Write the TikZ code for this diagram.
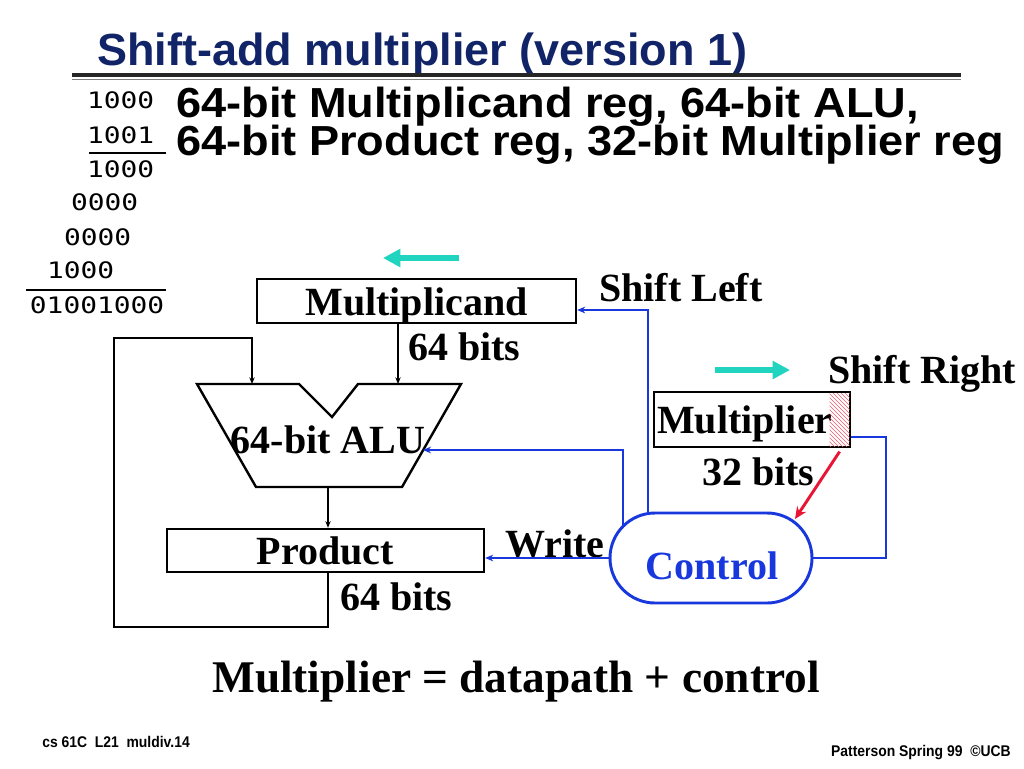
\documentclass[tikz,border=0pt]{standalone}
\usepackage{fontspec}
\setmainfont{Liberation Serif}
\newfontfamily\slidesans{Liberation Sans}
\newfontfamily\slidewide[FakeStretch=1.075]{Liberation Sans}
\newfontfamily\slidefoot[FakeStretch=0.9]{Liberation Sans}
\newfontfamily\slidemono[FakeStretch=1.23]{DejaVu Sans Mono}
\usepackage{tikz}
\usetikzlibrary{arrows.meta,patterns}
\definecolor{titleblue}{RGB}{18,36,104}
\definecolor{ctlblue}{RGB}{24,56,222}
\definecolor{shiftteal}{RGB}{32,212,192}
\definecolor{hotred}{RGB}{232,22,52}
\newcommand{\slidefont}[1]{\fontsize{#1}{#1}\selectfont}

\begin{document}
\begin{tikzpicture}[
  x=0.75pt,y=-0.75pt,
  reg/.style={draw,line width=1.8pt,inner sep=0pt,text height=21pt,text depth=0pt,font=\bfseries\slidefont{30}},
  lbl/.style={inner sep=0pt,font=\bfseries\slidefont{30}},
  bits/.style={inner sep=0pt,anchor=base east,font=\slidemono\slidefont{17}},
  ctlbox/.style={draw=ctlblue,line width=2.2pt,rounded corners=33.75pt,minimum width=151.5pt,minimum height=67.5pt},
  lsbbox/.style={draw=none,inner sep=0pt,pattern=north west lines,pattern color=hotred!70,minimum width=15pt,minimum height=39.75pt},
  arr/.style={-{Stealth[length=5pt,width=4pt]},line width=1.5pt},
  ctlarr/.style={-{Stealth[length=6pt,width=5pt]},ctlblue,line width=1.9pt},
  ctlline/.style={ctlblue,line width=1.9pt},
  hot/.style={-{Stealth[length=9pt,width=8pt]},hotred,line width=2.2pt},
  shiftarr/.style={-{Triangle[length=13pt,width=13pt]},shiftteal,line width=4.5pt},
  sumline/.style={line width=1.8pt}
]
\path[use as bounding box,fill=white] (0,0) rectangle (1024,768);
% title and rule
\node[anchor=base west,inner sep=0pt,text=titleblue,font=\slidesans\bfseries\slidefont{33.75}] (title) at (97,65) {Shift-add multiplier (version 1)};
\draw[line width=2.4pt,black!85] (72,75) -- (961,75);
\draw[line width=1.1pt,black!50] (72,79.5) -- (961,79.5);
\node[anchor=base west,inner sep=0pt,font=\slidewide\bfseries\slidefont{31.5}] (sub1) at (176,117) {64-bit Multiplicand reg, 64-bit ALU,};
\node[anchor=base west,inner sep=0pt,font=\slidewide\bfseries\slidefont{31.5}] (sub2) at (176,155) {64-bit Product reg, 32-bit Multiplier reg};
% worked example
\node[bits] (mcandnum) at (154.5,108) {1000};
\node[bits] (mpliernum) at (154.5,143) {1001};
\draw[sumline] (89,153) -- (166,153);
\node[bits] (pp0) at (154.5,177) {1000};
\node[bits] (pp1) at (138.5,210) {0000};
\node[bits] (pp2) at (131.5,245) {0000};
\node[bits] (pp3) at (114.5,278) {1000};
\draw[sumline] (26,290) -- (166,290);
\node[bits] (prodnum) at (164.5,313) {01001000};
% datapath
\node[reg,minimum width=239.25pt,minimum height=33pt] (mcand) at (416.5,301) {Multiplicand};
\node[reg,minimum width=237.75pt,minimum height=32.25pt] (prod) at (325.5,550.5) {Product};
\node[reg,minimum height=41.25pt,inner xsep=2.25pt,text width=142.5pt,align=left] (mplier) at (752,419.5) {Multiplier};
\node[lsbbox,anchor=east] (lsb) at ([xshift=-1pt]mplier.east) {};
\node[ctlbox] (ctrl) at (711,558) {};
\node[lbl,anchor=base,text=ctlblue] (ctrltext) at (712,579) {Control};
\coordinate (alua) at (252,384);
\coordinate (alub) at (398,384);
\coordinate (aluo) at (328,487);
\coordinate (aluc) at (423,450);
\draw[line width=1.8pt] (197,384) -- (299,384) -- (332,417) -- (358,384) -- (461,384) -- (402,487) -- (256,487) -- cycle;
\node[lbl,anchor=base] (alutext) at (328,453) {64-bit ALU};
\node[lbl,anchor=base west] (mcandbits) at (408,360) {64 bits};
\node[lbl,anchor=base west] (prodbits) at (340,610) {64 bits};
\node[lbl,anchor=base west] (mplierbits) at (702,485) {32 bits};
\node[lbl,anchor=base west] (shl) at (599,301) {Shift Left};
\node[lbl,anchor=base west] (shr) at (828,383) {Shift Right};
\node[lbl,anchor=base] (write) at (555,557) {Write};
\coordinate (slfrom) at (459,258);
\coordinate (slto) at (383,258);
\coordinate (srfrom) at (715,370);
\coordinate (srto) at (790,370);
\draw[shiftarr] (slfrom) -- (slto);
\draw[shiftarr] (srfrom) -- (srto);
\coordinate (loopbl) at (114,627);
\coordinate (looptl) at (114,338);
\draw[arr] (mcand.south -| alub) -- (alub);
\draw[arr] (prod.south -| aluo) |- (loopbl) -- (looptl) -| (alua);
\draw[arr] (aluo) -- (prod.north -| aluo);
% control signals
\coordinate (ctlup) at (648,310);
\coordinate (ctlalu) at (623,526);
\coordinate (mpr) at (886,437);
\coordinate (hotend) at (795,519);
\draw[ctlarr] (ctrl.north -| ctlup) -- (ctlup) -- (ctlup -| mcand.east);
\draw[ctlarr] (ctlalu) |- (aluc);
\draw[ctlarr] (ctrl.west) -- (ctrl.west -| prod.east);
\draw[ctlline] (mplier.east |- mpr) -- (mpr) |- (ctrl.east);
\draw[hot] ([yshift=-4pt]lsb.south) -- (hotend);
\node[lbl,anchor=base,font=\bfseries\slidefont{34}] (moral) at (516,692) {Multiplier = datapath + control};
% footer
\node[anchor=base west,inner sep=0pt,font=\slidefoot\bfseries\slidefont{11.6}] (foot) at (42,747) {cs 61C~ L21~ muldiv.14};
\node[anchor=base east,inner sep=0pt,font=\slidefoot\bfseries\slidefont{11.6}] (credit) at (1011,756) {Patterson Spring 99~ ©UCB};
\end{tikzpicture}
\end{document}
